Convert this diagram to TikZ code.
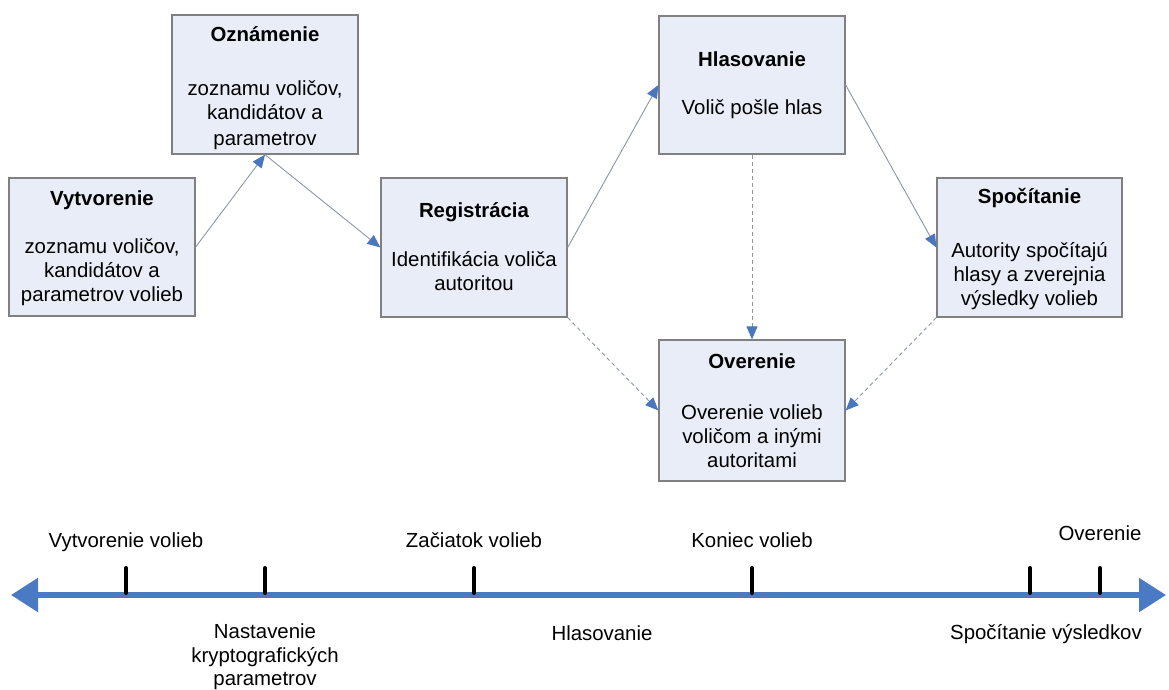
\documentclass[tikz,border=0pt]{standalone}
\usepackage{fontspec}
\setmainfont{Liberation Sans}
\usetikzlibrary{arrows.meta}

\definecolor{boxfill}{RGB}{232,237,247}
\definecolor{boxline}{RGB}{128,128,128}
\definecolor{linkgray}{RGB}{140,150,168}
\definecolor{tipblue}{RGB}{74,118,190}
\definecolor{axisblue}{RGB}{74,122,196}

\begin{document}
\begin{tikzpicture}[x=1pt,y=-1pt,
  stage/.style={draw=boxline, line width=1.3pt, fill=boxfill, inner sep=0pt},
  ttl/.style={anchor=base, inner sep=0pt, font=\fontsize{20.4}{24}\selectfont\bfseries},
  txt/.style={anchor=base, inner sep=0pt, font=\fontsize{20.4}{24}\selectfont},
  link/.style={draw=linkgray, line width=0.9pt, -{Triangle[length=13pt,width=11pt,color=tipblue]}},
  dlink/.style={link, dash pattern=on 4pt off 3pt},
  axis/.style={draw=axisblue, line width=5.5pt, {Triangle[length=27pt,width=33pt]}-{Triangle[length=27pt,width=33pt]}},
  tick/.style={draw=black, line width=4pt, line cap=round}]

\fill[white] (0,0) rectangle (1169,690);
\useasboundingbox (0,0) rectangle (1169,690);

% process stages
\node[stage, minimum width=186pt, minimum height=138pt] (vytv) at (102,247) {};
\node[stage, minimum width=186pt, minimum height=139pt] (ozn)  at (265,84.5) {};
\node[stage, minimum width=186pt, minimum height=139pt] (reg)  at (474,247.5) {};
\node[stage, minimum width=186pt, minimum height=138pt] (hlas) at (752,85) {};
\node[stage, minimum width=185pt, minimum height=139pt] (spoc) at (1029.5,247.5) {};
\node[stage, minimum width=186pt, minimum height=141pt] (over) at (752,410.5) {};

% stage texts
\node[ttl] (vytv-t) at (102,205) {Vytvorenie};
\node[txt] (vytv-1) at (102,253) {zoznamu voličov,};
\node[txt] (vytv-2) at (102,277) {kandidátov a};
\node[txt] (vytv-3) at (102,301) {parametrov volieb};

\node[ttl] (ozn-t) at (265,42) {Oznámenie};
\node[txt] (ozn-1) at (265,96) {zoznamu voličov,};
\node[txt] (ozn-2) at (265,120) {kandidátov a};
\node[txt] (ozn-3) at (265,145) {parametrov};

\node[ttl] (reg-t) at (474,217) {Registrácia};
\node[txt] (reg-1) at (474,266) {Identifikácia voliča};
\node[txt] (reg-2) at (474,290) {autoritou};

\node[ttl] (hlas-t) at (752,67) {Hlasovanie};
\node[txt] (hlas-1) at (752,115) {Volič pošle hlas};

\node[ttl] (spoc-t) at (1029.5,203) {Spočítanie};
\node[txt] (spoc-1) at (1029.5,257) {Autority spočítajú};
\node[txt] (spoc-2) at (1029.5,281) {hlasy a zverejnia};
\node[txt] (spoc-3) at (1029.5,305) {výsledky volieb};

\node[ttl] (over-t) at (752,368) {Overenie};
\node[txt] (over-1) at (752,419) {Overenie volieb};
\node[txt] (over-2) at (752,443) {voličom a inými};
\node[txt] (over-3) at (752,467) {autoritami};

% flow between stages
\draw[link] (vytv.east) -- (ozn.south);
\draw[link] (ozn.south) -- (reg.west);
\draw[link] (reg.east) -- (hlas.west);
\draw[link] (hlas.east) -- (spoc.west);
\draw[dlink] (hlas.south) -- (over.north);
\draw[dlink] (reg.south east) -- (over.west);
\draw[dlink] (spoc.south west) -- (over.east);

% time axis
\coordinate (ax-l) at (11,595);
\coordinate (ax-r) at (1166,595);
\draw[axis] (ax-l) -- (ax-r);
\foreach \tx in {126,265,474,752,1030,1100}
  \draw[tick] (\tx,568) -- (\tx,593);

% axis labels
\node[txt] (l-vytv) at (126,547) {Vytvorenie volieb};
\node[txt] (l-zac)  at (474,547) {Začiatok volieb};
\node[txt] (l-kon)  at (752,547) {Koniec volieb};
\node[txt] (l-over) at (1100,540) {Overenie};
\node[txt] (l-nas1) at (265,638) {Nastavenie};
\node[txt] (l-nas2) at (265,662) {kryptografických};
\node[txt] (l-nas3) at (265,685) {parametrov};
\node[txt] (l-hlas) at (602,640) {Hlasovanie};
\node[txt] (l-spoc) at (1046,639) {Spočítanie výsledkov};
\end{tikzpicture}
\end{document}
